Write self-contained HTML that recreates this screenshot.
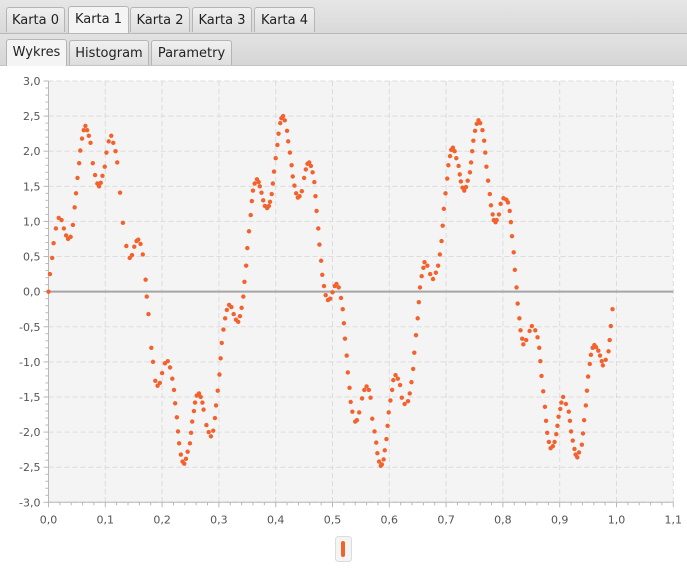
<!DOCTYPE html>
<html><head><meta charset="utf-8"><style>
body{margin:0;width:687px;height:568px;overflow:hidden;background:#fff;font-family:"DejaVu Sans","Liberation Sans",sans-serif;}
.bar1{position:absolute;left:0;top:0;width:687px;height:33px;background:linear-gradient(#e6e6e6,#d9d9d9);border-bottom:1px solid #b8b8b8;}
.bar2{position:absolute;left:0;top:34px;width:687px;height:31px;background:linear-gradient(#e2e2e2,#d6d6d6);border-bottom:1px solid #c4c4c4;}
.tab{position:absolute;height:25px;border:1px solid #b5b5b5;border-bottom:none;border-radius:3px 3px 0 0;background:linear-gradient(#f0f0f0,#dedede);font-size:13px;line-height:26px;text-align:center;color:#222;box-sizing:border-box;}
.tab.sel{background:#f4f4f4;height:27px;}
</style></head><body>
<div class="bar1"></div>
<div class="tab" style="left:6px;top:7px;width:59px">Karta 0</div>
<div class="tab sel" style="left:68px;top:6px;width:61px">Karta 1</div>
<div class="tab" style="left:130px;top:7px;width:60px">Karta 2</div>
<div class="tab" style="left:192px;top:7px;width:60px">Karta 3</div>
<div class="tab" style="left:254px;top:7px;width:61px">Karta 4</div>
<div class="bar2"></div>
<div class="tab sel" style="left:6px;top:39px;width:61px">Wykres</div>
<div class="tab" style="left:69px;top:40px;width:80px">Histogram</div>
<div class="tab" style="left:151px;top:40px;width:81px">Parametry</div>
<svg id="chart" width="687" height="502" style="position:absolute;left:0;top:66px" viewBox="0 66 687 502"></svg>
<script>
const xs=[0,0.0025,0.0065,0.009,0.013,0.018,0.023,0.027,0.031,0.0345,0.039,0.043,0.046,0.0485,0.051,0.054,0.056,0.059,0.062,0.065,0.068,0.071,0.074,0.078,0.082,0.086,0.089,0.092,0.095,0.099,0.102,0.106,0.1105,0.114,0.118,0.121,0.126,0.131,0.137,0.143,0.147,0.151,0.155,0.158,0.162,0.166,0.171,0.173,0.176,0.181,0.184,0.188,0.192,0.196,0.200,0.205,0.210,0.214,0.218,0.221,0.223,0.226,0.228,0.230,0.233,0.236,0.239,0.242,0.245,0.249,0.251,0.253,0.256,0.258,0.261,0.265,0.268,0.271,0.273,0.278,0.282,0.286,0.290,0.293,0.295,0.298,0.301,0.303,0.305,0.308,0.311,0.314,0.318,0.322,0.326,0.330,0.334,0.337,0.340,0.343,0.345,0.348,0.350,0.353,0.356,0.358,0.360,0.363,0.367,0.370,0.372,0.375,0.378,0.381,0.385,0.388,0.390,0.393,0.395,0.397,0.400,0.403,0.405,0.408,0.410,0.413,0.416,0.420,0.422,0.425,0.428,0.430,0.433,0.436,0.439,0.442,0.446,0.450,0.453,0.456,0.459,0.462,0.465,0.468,0.470,0.472,0.475,0.477,0.480,0.482,0.485,0.488,0.492,0.496,0.500,0.504,0.507,0.511,0.515,0.518,0.520,0.522,0.525,0.527,0.530,0.532,0.535,0.540,0.543,0.547,0.552,0.556,0.560,0.564,0.567,0.570,0.574,0.577,0.579,0.582,0.585,0.587,0.590,0.592,0.595,0.597,0.599,0.602,0.605,0.607,0.611,0.615,0.619,0.622,0.627,0.633,0.636,0.639,0.642,0.644,0.647,0.650,0.652,0.654,0.657,0.660,0.662,0.667,0.672,0.677,0.682,0.686,0.689,0.692,0.694,0.696,0.699,0.702,0.704,0.707,0.709,0.712,0.715,0.718,0.722,0.724,0.726,0.729,0.732,0.735,0.738,0.742,0.744,0.746,0.748,0.751,0.754,0.757,0.760,0.764,0.767,0.769,0.771,0.774,0.777,0.779,0.782,0.784,0.787,0.789,0.793,0.796,0.801,0.806,0.809,0.812,0.814,0.816,0.819,0.821,0.824,0.826,0.829,0.831,0.834,0.836,0.841,0.847,0.851,0.857,0.861,0.864,0.866,0.868,0.871,0.874,0.876,0.878,0.881,0.884,0.888,0.891,0.894,0.896,0.898,0.901,0.903,0.906,0.911,0.916,0.918,0.920,0.923,0.926,0.928,0.931,0.934,0.939,0.941,0.943,0.946,0.948,0.950,0.953,0.955,0.958,0.961,0.964,0.968,0.971,0.974,0.976,0.981,0.986,0.988,0.990,0.993,0.996];
const ys=[0,0.25,0.48,0.69,0.90,1.05,1.02,0.90,0.80,0.75,0.78,0.95,1.20,1.40,1.62,1.83,2.01,2.18,2.30,2.36,2.30,2.22,2.12,1.83,1.66,1.54,1.50,1.55,1.65,1.78,1.98,2.14,2.22,2.12,2.00,1.84,1.41,0.98,0.65,0.48,0.52,0.64,0.72,0.74,0.68,0.53,0.17,-0.07,-0.32,-0.80,-1.00,-1.27,-1.34,-1.30,-1.16,-1.02,-0.99,-1.08,-1.24,-1.40,-1.59,-1.79,-1.99,-2.16,-2.32,-2.42,-2.45,-2.38,-2.28,-2.16,-2.01,-1.85,-1.70,-1.58,-1.48,-1.45,-1.50,-1.58,-1.68,-1.90,-2.00,-2.06,-1.98,-1.80,-1.62,-1.41,-1.18,-0.95,-0.73,-0.54,-0.38,-0.26,-0.19,-0.22,-0.32,-0.40,-0.43,-0.35,-0.23,-0.07,0.14,0.37,0.62,0.86,1.09,1.29,1.44,1.54,1.60,1.56,1.50,1.41,1.30,1.22,1.19,1.22,1.28,1.39,1.54,1.71,1.90,2.09,2.25,2.40,2.47,2.50,2.44,2.29,2.14,1.98,1.80,1.64,1.51,1.40,1.34,1.36,1.43,1.62,1.74,1.82,1.84,1.79,1.70,1.56,1.36,1.15,0.90,0.67,0.44,0.24,0.08,-0.05,-0.12,-0.10,-0.01,0.08,0.11,0.06,-0.09,-0.25,-0.45,-0.67,-0.91,-1.15,-1.37,-1.57,-1.71,-1.85,-1.83,-1.72,-1.52,-1.40,-1.35,-1.40,-1.51,-1.81,-1.99,-2.15,-2.30,-2.42,-2.48,-2.46,-2.39,-2.26,-2.10,-1.91,-1.72,-1.55,-1.40,-1.26,-1.19,-1.24,-1.33,-1.51,-1.60,-1.56,-1.45,-1.29,-1.10,-0.87,-0.62,-0.38,-0.15,0.06,0.22,0.34,0.42,0.37,0.25,0.18,0.27,0.37,0.53,0.72,0.94,1.18,1.40,1.61,1.80,1.93,2.02,2.05,2.00,1.90,1.79,1.67,1.57,1.48,1.44,1.49,1.58,1.70,1.84,2.00,2.15,2.29,2.39,2.44,2.40,2.30,2.15,1.98,1.78,1.58,1.39,1.23,1.10,1.02,0.99,1.02,1.10,1.25,1.33,1.31,1.27,1.15,0.99,0.79,0.56,0.31,0.06,-0.17,-0.38,-0.55,-0.67,-0.75,-0.69,-0.56,-0.49,-0.55,-0.65,-0.80,-0.99,-1.20,-1.42,-1.64,-1.84,-2.01,-2.14,-2.23,-2.20,-2.14,-2.03,-1.91,-1.78,-1.67,-1.58,-1.50,-1.60,-1.71,-1.84,-1.99,-2.12,-2.24,-2.32,-2.36,-2.29,-2.18,-2.02,-1.83,-1.62,-1.41,-1.21,-1.03,-0.90,-0.80,-0.76,-0.79,-0.84,-0.91,-0.99,-1.05,-0.97,-0.85,-0.69,-0.49,-0.25];
const xTicks=[0,0.1,0.2,0.3,0.4,0.5,0.6,0.7,0.8,0.9,1.0,1.1];
const xTickLabels=["0,0","0,1","0,2","0,3","0,4","0,5","0,6","0,7","0,8","0,9","1,0","1,1"];
const yTicks=[3,2.5,2,1.5,1,0.5,0,-0.5,-1,-1.5,-2,-2.5,-3];
const yTickLabels=["3,0","2,5","2,0","1,5","1,0","0,5","0,0","-0,5","-1,0","-1,5","-2,0","-2,5","-3,0"];

const NS="http://www.w3.org/2000/svg";
const svg=document.getElementById('chart');
const X0=48.5,X1=48.5+568*1.1,Y0=81,Y1=502.3;
const sx=v=>X0+v*568;
const sy=v=>291.65-v*70.22;
function mk(tag,attrs,parent){const e=document.createElementNS(NS,tag);for(const k in attrs)e.setAttribute(k,attrs[k]);(parent||svg).appendChild(e);return e;}
const bg=mk('rect',{x:X0,y:Y0,width:X1-X0,height:Y1-Y0,fill:'#f4f4f4'});


const grid=mk('g',{stroke:'#dcdcdc','stroke-width':1,'stroke-dasharray':'5,3',fill:'none'});


xTicks.forEach(t=>{if(t>0)mk('line',{x1:sx(t),x2:sx(t),y1:Y0,y2:Y1},grid);});
yTicks.forEach(t=>{mk('line',{x1:X0,x2:X1,y1:sy(t),y2:sy(t)},grid);});
const zl=mk('line',{x1:X0,x2:X1,y1:sy(0),y2:sy(0),stroke:'#a5a5a5','stroke-width':2});


// axes
const ax=mk('g',{stroke:'#b8b8b8','stroke-width':1,fill:'none'});


mk('line',{x1:X0,x2:X0,y1:Y0,y2:Y1},ax);
mk('line',{x1:X0,x2:X1,y1:Y1,y2:Y1},ax);
for(let i=0;i<=55;i++){const v=i*0.02;const maj=i%5===0;mk('line',{x1:sx(v),x2:sx(v),y1:Y1,y2:Y1+(maj?5:3)},ax);}
for(let i=-30;i<=30;i++){const v=i*0.1;const maj=i%5===0;mk('line',{x1:X0,x2:X0-(maj?5:3),y1:sy(v),y2:sy(v)},ax);}
const xl=mk('g',{fill:'#555','font-size':11,'text-anchor':'middle','font-family':'DejaVu Sans, Liberation Sans, sans-serif'});


xTicks.forEach((t,i)=>{const e=mk('text',{x:sx(t),y:Y1+21},xl);e.textContent=xTickLabels[i];});
const yl=mk('g',{fill:'#555','font-size':11,'text-anchor':'end','font-family':'DejaVu Sans, Liberation Sans, sans-serif'});


yTicks.forEach((t,i)=>{const e=mk('text',{x:X0-8,y:sy(t)+4},yl);e.textContent=yTickLabels[i];});
const pts=mk('g',{fill:'#f3622d'});


xs.forEach((x,i)=>{const c=mk('circle',{cx:sx(x),cy:sy(ys[i]),r:2.2},pts);

});
const lg=mk('g',{});


mk('rect',{x:335.5,y:536.5,width:16,height:25,rx:3,fill:'#f4f4f4',stroke:'#dcdcdc'},lg);
mk('rect',{x:341,y:541,width:4,height:16,rx:2,fill:'#f3622d'},lg);
</script>
</body></html>
